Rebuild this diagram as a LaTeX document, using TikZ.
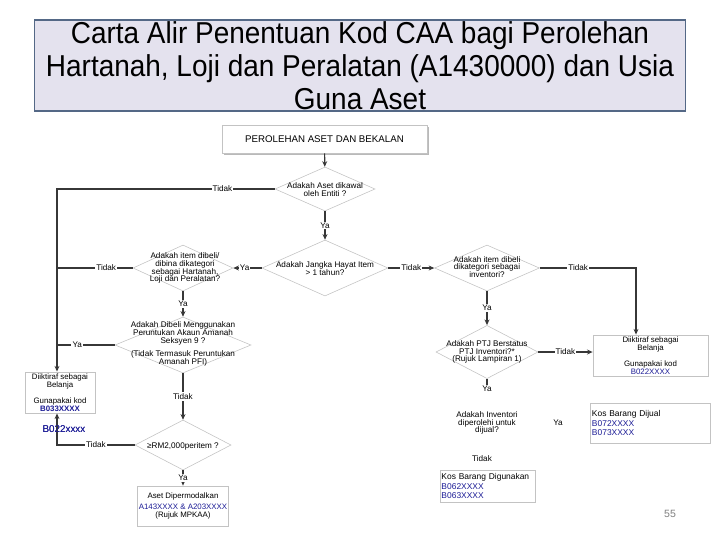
\documentclass[tikz,border=0pt]{standalone}
\usepackage{fontspec}
\setmainfont{Liberation Sans}
\newfontfamily\titlefont[FakeStretch=0.925]{Liberation Sans}
\usepackage{xcolor}
\usepackage{tikz}
\usetikzlibrary{positioning, shapes.geometric, arrows.meta, calc, shadows}
\definecolor{titlefill}{RGB}{228,226,238}
\definecolor{titleline}{RGB}{84,104,134}
\definecolor{kodblue}{RGB}{28,28,150}
\definecolor{boxline}{RGB}{195,195,195}
\definecolor{flowline}{RGB}{55,55,55}
\newcommand{\flowfont}{\fontsize{5.8}{5.6}\selectfont}
\newcommand{\kod}[1]{{\color{kodblue}#1}}

\begin{document}
\begin{tikzpicture}[x=0.025cm, y=-0.025cm,
  titlebox/.style={draw=titleline, fill=titlefill, line width=0.8pt,
                   minimum width=16.25cm, minimum height=2.275cm, inner sep=0pt},
  topbox/.style={draw=boxline, fill=white, line width=0.5pt,
                 minimum width=5.125cm, minimum height=0.7cm,
                 font=\fontsize{6.9}{8}\selectfont,
                 drop shadow={shadow xshift=1.3pt, shadow yshift=-1.3pt, fill=gray!55, opacity=1}},
  dia/.style={diamond, draw=boxline, line width=0.4pt, inner sep=0pt, aspect=2},
  dtext/.style={align=center, font=\flowfont, inner sep=0pt},
  card/.style={draw=boxline, fill=white, line width=0.5pt, align=center,
               font=\fontsize{5.6}{6}\selectfont, inner sep=1pt},
  lbl/.style={fill=white, inner sep=0.8pt, font=\flowfont},
  conn/.style={draw=flowline, line width=0.8pt},
  arrow/.style={conn, -{Stealth[length=4pt, width=3.5pt]}}
]
  \useasboundingbox[fill=white] (0,0) rectangle (720,540);
  % title
  \node[titlebox] (title) at (360,65.5) {};
  \node[align=center, inner sep=0pt, font=\titlefont\fontsize{21.5}{23.4}\selectfont]
    (titletxt) at (360,65.5) {Carta Alir Penentuan Kod CAA bagi Perolehan\\
    Hartanah, Loji dan Peralatan (A1430000) dan Usia\\Guna Aset};

  % flow, left column
  \node[topbox] (start) at (324.5,139) {PEROLEHAN ASET DAN BEKALAN};
  \node[dia, minimum width=2.5cm, minimum height=1.1cm] (d1) at (325,189) {};
  \node[dtext] (d1t) at (325,190) {Adakah Aset dikawal\\oleh Entiti ?};
  \node[dia, minimum width=3.15cm, minimum height=1.4cm] (d2) at (325,268) {};
  \node[dtext] (d2t) at (325,269) {Adakah Jangka Hayat Item\\> 1 tahun?};
  \node[dia, minimum width=2.5cm, minimum height=1.15cm] (d3) at (183,268) {};
  \node[dtext] (d3t) at (185,268) {Adakah item dibeli/\\dibina dikategori\\sebagai Hartanah,\\Loji dan Peralatan?};
  \node[dia, minimum width=3.4cm, minimum height=1.4cm] (d4) at (183,345) {};
  \node[dtext] (d4t) at (183,344) {Adakah Dibeli Menggunakan\\Peruntukan Akaun Amanah\\Seksyen 9 ?\\[4pt]
    (Tidak Termasuk Peruntukan\\Amanah PFI)};
  \node[dia, minimum width=2.4cm, minimum height=1.25cm] (d5) at (183,445) {};
  \node[dtext] (d5t) at (183,446) {≥RM2,000peritem ?};
  \node[card, minimum width=2.25cm, minimum height=1cm] (asset) at (183,506)
    {Aset Dipermodalkan\\[2pt]\kod{A143XXXX \& A203XXXX}\\(Rujuk MPKAA)};
  \node[card, minimum width=1.75cm, minimum height=1.03cm] (belanjaL) at (60,392.5)
    {Diiktiraf sebagai\\Belanja\\[5pt]Gunapakai kod\\\kod{\textbf{B033XXXX}}};
  \node[text=kodblue, font=\fontsize{7}{8}\selectfont, inner sep=0pt] (b022) at (64,429) {B022xxxx};
  \coordinate (c1) at (57,189);

  % flow, right column
  \node[dia, minimum width=2.62cm, minimum height=1.15cm] (d6) at (487,268) {};
  \node[dtext] (d6t) at (487,267) {Adakah item dibeli\\dikategori sebagai\\inventori?};
  \node[dia, minimum width=2.55cm, minimum height=1.33cm] (d7) at (487,352) {};
  \node[dtext] (d7t) at (487,352) {Adakah PTJ Berstatus\\PTJ Inventori?*\\(Rujuk Lampiran 1)};
  \node[lbl] (ya7) at (487,389) {Ya};
  \node[card, minimum width=2.875cm, minimum height=1.03cm] (belanjaR) at (650.5,355.5)
    {Diiktiraf sebagai\\Belanja\\[5pt]Gunapakai kod\\\kod{B022XXXX}};
  \coordinate (c2) at (636,268);
  \node[dtext] (jualq) at (487,423) {Adakah Inventori\\diperolehi untuk\\dijual?};
  \node[lbl] (yajual) at (558,423) {Ya};
  \node[lbl] (tidakjual) at (482,459) {Tidak};
  \node[card, minimum width=3cm, minimum height=1cm, text width=2.9cm, align=left,
        font=\fontsize{6}{6.6}\selectfont] (jual) at (650,423)
    {Kos Barang Dijual\\\kod{B072XXXX}\\\kod{B073XXXX}};
  \node[card, minimum width=2.375cm, minimum height=0.8cm, text width=2.3cm, align=left,
        font=\fontsize{6}{6.6}\selectfont] (guna) at (487.5,486)
    {Kos Barang Digunakan\\\kod{B062XXXX}\\\kod{B063XXXX}};
  \node[text=gray, font=\fontsize{7.5}{8}\selectfont] (pagenum) at (670,514) {55};

  % connectors
  \draw[arrow] (start) -- (d1);
  \draw[arrow] (d1.west) -- node[lbl, pos=0.24] {Tidak} (c1) -- (c1 |- belanjaL.north);
  \draw[arrow] (d1.south) -- node[lbl] {Ya} (d2.north);
  \draw[arrow] (d2.west) -- node[lbl, pos=0.6] {Ya} (d3.east);
  \draw[conn] (d3.west) -- node[lbl, pos=0.35] {Tidak} (d3.west -| c1);
  \draw[arrow] (d3.south) -- node[lbl] {Ya} (d4.north);
  \draw[conn] (d4.west) -- node[lbl, pos=0.65] {Ya} (d4.west -| c1);
  \draw[arrow] (d4.south) -- node[lbl] {Tidak} (d5.north);
  \draw[arrow] (d5.west) -- node[lbl, pos=0.5] {Tidak} (d5.west -| c1) -- (c1 |- belanjaL.south);
  \draw[arrow] (d5.south) -- node[lbl] {Ya} (asset.north);
  \draw[arrow] (d2.east) -- node[lbl] {Tidak} (d6.west);
  \draw[arrow] (d6.east) -- node[lbl, pos=0.4] {Tidak} (c2) -- (c2 |- belanjaR.north);
  \draw[arrow] (d6.south) -- node[lbl] {Ya} (d7.north);
  \draw[arrow] (d7.east) -- node[lbl] {Tidak} (d7.east -| belanjaR.west);
  \draw[conn] (d7.south) -- (ya7.north);
  \node[text=kodblue, font=\fontsize{7}{8}\selectfont, inner sep=0pt] (b022top) at (b022) {B022xxxx};
\end{tikzpicture}
\end{document}
